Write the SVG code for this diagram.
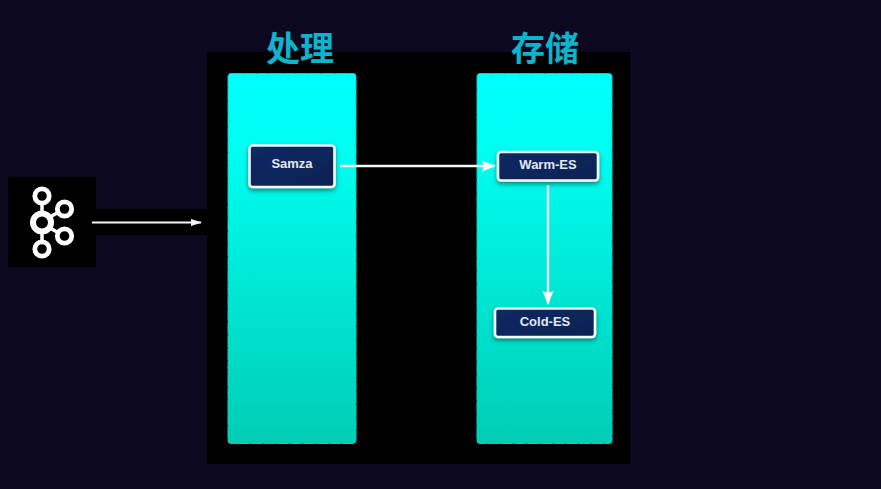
<svg xmlns="http://www.w3.org/2000/svg" width="881" height="489" viewBox="0 0 881 489">
<style>
.col{fill:url(#cg);stroke:#00d5c0;stroke-width:1;stroke-dasharray:12 1}
.box{fill:url(#bg);stroke:#f2fbfb;stroke-width:2.6;filter:url(#sh)}
.lbl{font:bold 13px "Liberation Sans",Arial,sans-serif;fill:#e4e9f2;text-anchor:middle}
.ttl{font:bold 34px "Noto Sans CJK SC","Noto Sans",sans-serif;fill:#0fb4cc;text-anchor:middle}
.ln{fill:none;stroke:#f4f8f8;stroke-width:2.4}
.kf{fill:none;stroke:#fff;stroke-width:4.8}
</style>
<defs>
<linearGradient id="cg" x1="0" y1="0" x2="0" y2="1"><stop offset="0" stop-color="#00ffff"/><stop offset="0.22" stop-color="#00fdf0"/><stop offset="1" stop-color="#00cdb4"/></linearGradient>
<linearGradient id="bg" x1="0" y1="0" x2="1" y2="1"><stop offset="0" stop-color="#0a2a64"/><stop offset="1" stop-color="#0c2252"/></linearGradient>
<filter id="sh" x="-20%" y="-30%" width="140%" height="170%"><feDropShadow dx="0" dy="2.5" stdDeviation="2" flood-color="#004040" flood-opacity="0.6"/></filter>
<marker id="a" markerWidth="11" markerHeight="8" refX="10" refY="4" orient="auto" markerUnits="userSpaceOnUse"><path d="M0 0.500L11 4L0 7.500Z" fill="#f4f8f8"/></marker>
<marker id="b" markerWidth="14" markerHeight="12" refX="13" refY="6" orient="auto" markerUnits="userSpaceOnUse"><path d="M0 0.500L14 6L0 11.500L2 6Z" fill="#fff"/></marker>
</defs>
<rect width="881" height="489" fill="#0b0820"/>
<rect x="207" y="52" width="423" height="412" fill="#000"/>
<rect x="96" y="209" width="111" height="26" fill="#000"/>
<g id="kafka">
<rect x="8" y="177" width="88" height="90" fill="#000"/>
<g class="kf">
<path d="M42 204V214M42 232V241M50 217L57 213M50 228L57 232" stroke-width="3.500"/>
<circle cx="42" cy="196" r="7.200"/>
<circle cx="64.500" cy="209" r="7.200"/>
<circle cx="64.500" cy="236" r="7.200"/>
<circle cx="42" cy="249" r="7.200"/>
<circle cx="42" cy="222.500" r="9" stroke-width="6"/>
</g>
</g>
<g id="col-proc">
<rect class="col" x="228" y="73.500" width="128" height="370" rx="3"/>
<text class="ttl" x="300" y="61">处理</text>
</g>
<g id="col-store">
<rect class="col" x="477" y="73.500" width="135" height="370" rx="3"/>
<text class="ttl" x="545" y="61">存储</text>
</g>
<g id="connectors">
<path class="ln" d="M92 222.500H201" marker-end="url(#a)" style="stroke-width:1.800"/>
<path class="ln" d="M340 166H495" marker-end="url(#b)"/>
<path class="ln" d="M548 185V304" marker-end="url(#b)"/>
</g>
<g id="samza">
<rect class="box" x="249.500" y="145.500" width="85" height="41.500" rx="3"/>
<text class="lbl" x="292" y="168">Samza</text>
</g>
<g id="warm-es">
<rect class="box" x="498" y="152" width="100" height="28.500" rx="3"/>
<text class="lbl" x="548" y="169">Warm-ES</text>
</g>
<g id="cold-es">
<rect class="box" x="495" y="308.500" width="100" height="28.500" rx="3"/>
<text class="lbl" x="545" y="326">Cold-ES</text>
</g>
</svg>
